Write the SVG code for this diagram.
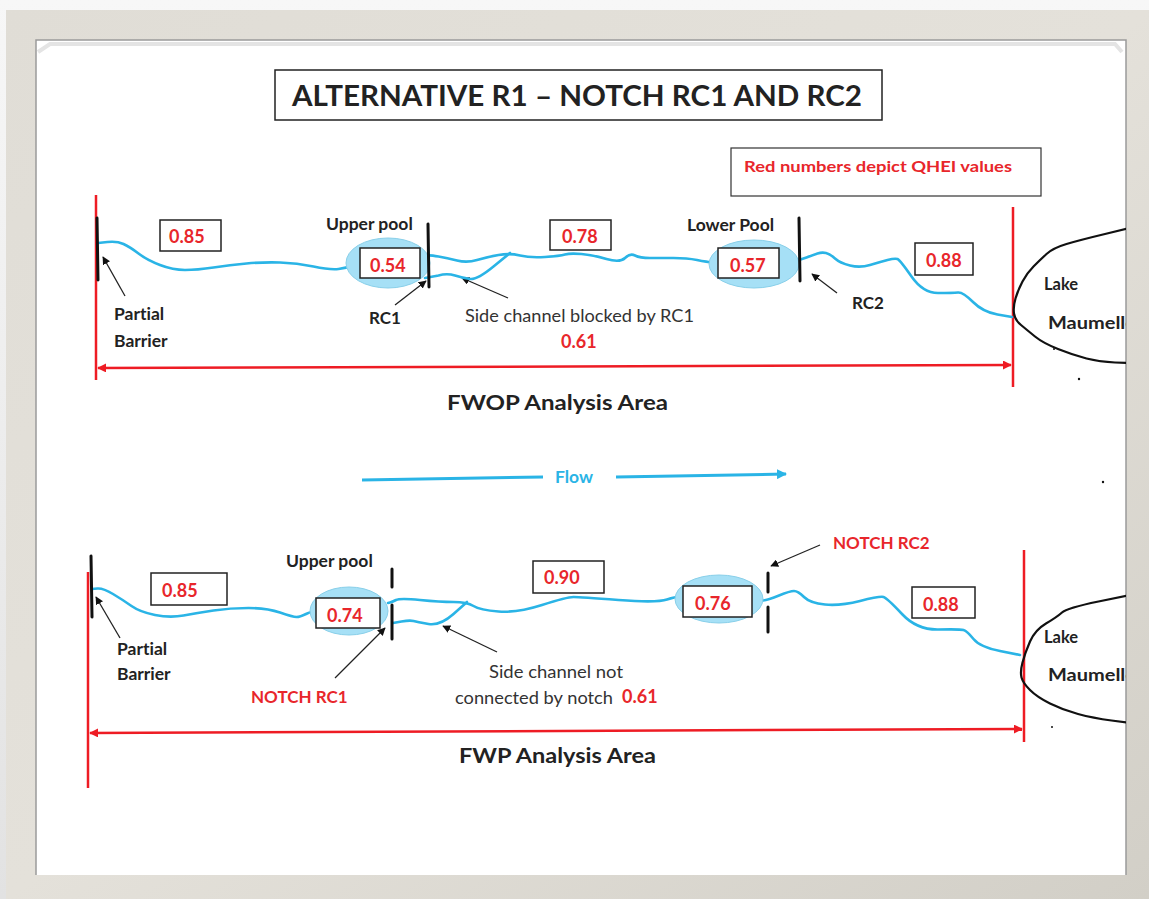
<svg xmlns="http://www.w3.org/2000/svg" width="1149" height="899" viewBox="0 0 1149 899">
<defs>
<style>
text{font-variant-ligatures:none;}
.t{font-family:Lato,"Open Sans","Liberation Sans",sans-serif;font-weight:bold;fill:#222;}
.r{font-family:Lato,"Open Sans","Liberation Sans",sans-serif;font-weight:bold;fill:#e8262b;}
.n{font-family:Lato,"Open Sans","Liberation Sans",sans-serif;font-weight:normal;fill:#333;}
.box{fill:#fff;stroke:#222;stroke-width:1.5;}
.riv{fill:none;stroke:#2ab4e6;stroke-width:2.6;stroke-linejoin:round;stroke-linecap:round;}
.pool{fill:#a6e0f6;stroke:#88cfe9;stroke-width:1;}
.bar{stroke:#111;stroke-width:3;stroke-linecap:round;}
.ptr{stroke:#222;stroke-width:1.3;fill:none;marker-end:url(#ah);}
.red{stroke:#ee1c24;stroke-width:2.5;fill:none;}
.lake{fill:none;stroke:#111;stroke-width:2.2;stroke-linejoin:round;}
</style>
<marker id="ah" viewBox="0 0 10 10" refX="9" refY="5" markerWidth="8" markerHeight="8" orient="auto" markerUnits="userSpaceOnUse"><path d="M0,0 L10,5 L0,10 z" fill="#111"/></marker>
<marker id="rh" viewBox="0 0 10 10" refX="9" refY="5" markerWidth="9" markerHeight="9" orient="auto-start-reverse" markerUnits="userSpaceOnUse"><path d="M0,0 L10,5 L0,10 z" fill="#ee1c24"/></marker>
<marker id="bh" viewBox="0 0 10 10" refX="9" refY="5" markerWidth="10" markerHeight="10" orient="auto" markerUnits="userSpaceOnUse"><path d="M0,0 L10,5 L0,10 z" fill="#2ab4e6"/></marker>
<linearGradient id="fr" x1="0" y1="0" x2="1" y2="1"><stop offset="0" stop-color="#e0ddd6"/><stop offset="0.5" stop-color="#e4e1da"/><stop offset="1" stop-color="#d2cfc7"/></linearGradient>
<linearGradient id="sh" x1="0" y1="0" x2="0" y2="1"><stop offset="0" stop-color="#f7f7f7"/><stop offset="1" stop-color="#e2e2e2"/></linearGradient>
<clipPath id="cp"><rect x="36" y="40" width="1090" height="835"/></clipPath>
</defs>

<g id="frame">
<rect x="0" y="0" width="1149" height="899" fill="url(#sh)"/>
<rect x="6" y="10" width="1143" height="889" fill="url(#fr)"/>
<rect x="36" y="40" width="1090" height="835" fill="#fff"/>
<path d="M36,875 L36,40 L1126,40 L1126,875" fill="none" stroke="#9a9a9a" stroke-width="1.5"/>
<path d="M38,52 L50,44 L1115,44 L1122,52" fill="none" stroke="#e4e4e4" stroke-width="4"/>
</g>

<g id="title">
<rect x="275" y="70" width="607" height="50" fill="#fff" stroke="#222" stroke-width="1.5"/>
<text class="t" x="292" y="106" font-size="29" textLength="570" lengthAdjust="spacingAndGlyphs" fill="#111">ALTERNATIVE R1 – NOTCH RC1 AND RC2</text>
</g>

<g id="legend">
<rect x="731" y="148" width="310" height="48" fill="#fff" stroke="#333" stroke-width="1.2"/>
<text class="r" x="744" y="172" font-size="15.5" textLength="268" lengthAdjust="spacingAndGlyphs">Red numbers depict QHEI values</text>
</g>

<g id="connectors">
<line class="red" x1="96" y1="195" x2="96" y2="380"/>
<line class="red" x1="1013" y1="207" x2="1013" y2="387"/>
<line class="red" x1="98" y1="368" x2="1011" y2="365" marker-start="url(#rh)" marker-end="url(#rh)"/>
<line class="ptr" x1="125" y1="296" x2="103" y2="257"/>
<line class="ptr" x1="395" y1="305" x2="426" y2="281"/>
<line class="ptr" x1="508" y1="298" x2="462" y2="278"/>
<line class="ptr" x1="837" y1="293" x2="812" y2="274"/>
<line x1="362" y1="480" x2="543" y2="477" stroke="#2ab4e6" stroke-width="3"/>
<line x1="616" y1="477" x2="786" y2="474" stroke="#2ab4e6" stroke-width="3" marker-end="url(#bh)"/>
<line class="red" x1="88" y1="572" x2="88" y2="788"/>
<line class="red" x1="1024" y1="550" x2="1024" y2="742"/>
<line class="red" x1="90" y1="733" x2="1022" y2="729" marker-start="url(#rh)" marker-end="url(#rh)"/>
<line class="ptr" x1="120" y1="638" x2="96" y2="597"/>
<line class="ptr" x1="335" y1="678" x2="385" y2="628"/>
<line class="ptr" x1="497" y1="652" x2="443" y2="626"/>
<line class="ptr" x1="820" y1="545" x2="771" y2="566"/>
</g>

<g id="fwop-river">
<path class="riv" d="M98,243 L107.5,242 Q117,241 123.5,244 Q130,247 138.5,253.5 Q147,260 160,265 Q173,270 185,270 Q197,270 213.5,267.5 Q230,265 246.5,263.5 Q263,262 280,262.5 Q297,263 313.5,266.5 Q330,270 338.5,269 Q347,268 353.5,265 Q360,262 370,262 L380,262"/>
<path class="riv" d="M425,256 L427.5,255.5 Q430,255 438.5,256.5 Q447,258 457,260.5 Q467,263 477,260 Q487,257 498.5,255 Q510,253 520,255.5 Q530,258 545,257 Q560,256 565,254.5 Q570,253 581.5,254 Q593,255 606.5,259 Q620,263 625,258 Q630,253 635,255.5 Q640,258 650,258 Q660,258 673.5,258 Q687,258 697,260 Q707,262 713.5,262.5 L720,263"/>
<path class="riv" d="M425,278 L438.5,275.5 Q447,273 455,275.5 Q463,278 470,279 Q477,280 493.5,266.5 L510,253"/>
<path class="riv" d="M790,261 L795,260.5 Q800,260 806.5,257.5 Q813,255 817.5,253.5 Q822,252 826,253 Q830,254 835,258.5 Q840,263 850,265.5 Q860,268 870,265 Q880,262 887.5,260 Q895,258 897.5,259 Q900,260 911.5,276.5 Q923,293 938,293 Q953,293 958,292.5 Q963,292 973,302 Q983,312 997.5,314.5 L1012,317"/>
</g>

<g id="fwop-upper-pool">
<ellipse class="pool" cx="388" cy="263" rx="42" ry="25"/>
<rect class="box" x="360" y="248" width="60" height="30"/>
<text class="r" x="370" y="272" font-size="18">0.54</text>
<text class="t" x="326" y="230" font-size="17.5">Upper pool</text>
</g>
<g id="fwop-rc1">
<line class="bar" x1="428" y1="224" x2="429" y2="287"/>
<text class="t" x="369" y="324" font-size="17">RC1</text>
</g>
<g id="fwop-partial-barrier">
<line class="bar" x1="97" y1="218" x2="98" y2="280"/>
<text class="t" x="114" y="320" font-size="17.5">Partial</text>
<text class="t" x="114" y="347" font-size="17.5">Barrier</text>
</g>
<g id="fwop-085">
<rect class="box" x="160" y="220" width="61" height="31"/>
<text class="r" x="169" y="243" font-size="18">0.85</text>
</g>
<g id="fwop-side-channel">
<text class="n" x="465" y="322" font-size="16.5" textLength="229" lengthAdjust="spacingAndGlyphs">Side channel blocked by RC1</text>
<text class="r" x="561" y="348" font-size="18">0.61</text>
</g>
<g id="fwop-078">
<rect class="box" x="550" y="220" width="61" height="30"/>
<text class="r" x="562" y="243" font-size="18">0.78</text>
</g>
<g id="fwop-lower-pool">
<ellipse class="pool" cx="754" cy="264" rx="45" ry="24"/>
<rect class="box" x="718" y="248" width="61" height="30"/>
<text class="r" x="730" y="272" font-size="18">0.57</text>
<text class="t" x="687" y="231" font-size="17.5">Lower Pool</text>
</g>
<g id="fwop-rc2">
<line class="bar" x1="799" y1="218" x2="800" y2="281"/>
<text class="t" x="852" y="309" font-size="17">RC2</text>
</g>
<g id="fwop-088">
<rect class="box" x="915" y="243" width="58" height="32"/>
<text class="r" x="926" y="267" font-size="18">0.88</text>
</g>
<g id="fwop-lake" clip-path="url(#cp)">
<path class="lake" d="M1130,228 L1105,234 Q1080,240 1066.5,244 Q1053,248 1046.5,254 Q1040,260 1033.5,266.5 Q1027,273 1022.5,281.5 Q1018,290 1015.5,298.5 Q1013,307 1014,313.5 Q1015,320 1021,325 Q1027,330 1035,336.5 Q1043,343 1058,349 Q1073,355 1086.5,358.5 Q1100,362 1115,362.5 L1130,363"/>
<text class="t" x="1044" y="290" font-size="16.5">Lake</text>
<text class="t" x="1048" y="329" font-size="16.5" textLength="88" lengthAdjust="spacingAndGlyphs">Maumelle</text>
<circle cx="1054" cy="349" r="1" fill="#111"/>
<circle cx="1079" cy="379" r="1.2" fill="#111"/>
</g>
<g id="fwop-label">
<text class="t" x="447" y="410" font-size="20" textLength="221" lengthAdjust="spacingAndGlyphs" fill="#111">FWOP Analysis Area</text>
</g>

<g id="flow">
<text x="555" y="483" font-family="Lato,'Open Sans','Liberation Sans',sans-serif" font-weight="bold" font-size="17.5" fill="#2ab4e6">Flow</text>
<circle cx="1103" cy="482" r="1.2" fill="#111"/>
</g>

<g id="fwp-river">
<path class="riv" d="M92,589 L97.5,588.5 Q103,588 113,594 Q123,600 131.5,606 Q140,612 155,615 Q170,618 183.5,615.5 Q197,613 213.5,610.5 Q230,608 248.5,608 Q267,608 280,612.5 Q293,617 296.5,617 Q300,617 306,614 Q312,611 321,610.5 L330,610"/>
<path class="riv" d="M388,603 L390,602.5 Q392,602 396,600 Q400,598 420,600 Q440,602 453.5,602 Q467,602 473.5,606 Q480,610 498.5,611.5 Q517,613 542,605 Q567,597 573.5,597 Q580,597 618.5,600 Q657,603 667,599.5 Q677,596 683.5,597 L690,598"/>
<path class="riv" d="M393,623 L401.5,621.5 Q410,620 413.5,621 Q417,622 428.5,624 Q440,626 453.5,614 L467,602"/>
<path class="riv" d="M758,601 L763,600.5 Q768,600 779,595.5 Q790,591 794,591 Q798,591 804,597 Q810,603 825,604.5 Q840,606 860,601 Q880,596 883.5,597 Q887,598 902,614 Q917,630 938.5,629.5 Q960,629 963.5,630 Q967,631 973.5,639 Q980,647 1000,651 L1020,655"/>
</g>

<g id="fwp-partial-barrier">
<line class="bar" x1="91" y1="556" x2="92" y2="617"/>
<text class="t" x="117" y="655" font-size="17.5">Partial</text>
<text class="t" x="117" y="680" font-size="17.5">Barrier</text>
</g>
<g id="fwp-085">
<rect class="box" x="151" y="573" width="76" height="32"/>
<text class="r" x="162" y="597" font-size="18">0.85</text>
</g>
<g id="fwp-upper-pool">
<ellipse class="pool" cx="349" cy="611" rx="39" ry="24"/>
<rect class="box" x="316" y="598" width="64" height="30"/>
<text class="r" x="327" y="622" font-size="18">0.74</text>
<text class="t" x="286" y="567" font-size="17.5">Upper pool</text>
</g>
<g id="fwp-notch-rc1">
<line class="bar" x1="392" y1="569" x2="392" y2="587"/>
<line class="bar" x1="392" y1="605" x2="392" y2="639"/>
<text class="r" x="251" y="703" font-size="17">NOTCH RC1</text>
</g>
<g id="fwp-side-channel">
<text class="n" x="489" y="678" font-size="16.5" textLength="134" lengthAdjust="spacingAndGlyphs">Side channel not</text>
<text class="n" x="455" y="704" font-size="16.5" textLength="158" lengthAdjust="spacingAndGlyphs">connected by notch</text>
<text class="r" x="622" y="703" font-size="18">0.61</text>
</g>
<g id="fwp-090">
<rect class="box" x="533" y="561" width="71" height="32"/>
<text class="r" x="544" y="584" font-size="18">0.90</text>
</g>
<g id="fwp-lower-pool">
<ellipse class="pool" cx="719" cy="599" rx="44" ry="24"/>
<rect class="box" x="683" y="586" width="69" height="31"/>
<text class="r" x="695" y="610" font-size="18">0.76</text>
</g>
<g id="fwp-notch-rc2">
<line class="bar" x1="768" y1="573" x2="768" y2="592"/>
<line class="bar" x1="768" y1="607" x2="768" y2="632"/>
<text class="r" x="833" y="549" font-size="17">NOTCH RC2</text>
</g>
<g id="fwp-088">
<rect class="box" x="912" y="587" width="63" height="31"/>
<text class="r" x="923" y="611" font-size="18">0.88</text>
</g>
<g id="fwp-lake" clip-path="url(#cp)">
<path class="lake" d="M1130,595 L1098.5,601.5 Q1067,608 1062,612.5 Q1057,617 1046,623.5 Q1035,630 1030,641.5 Q1025,653 1022.5,662.5 Q1020,672 1021.5,677.5 Q1023,683 1030,690 Q1037,697 1050,703.5 Q1063,710 1078,714 Q1093,718 1111.5,720.5 L1130,723"/>
<text class="t" x="1044" y="643" font-size="16.5">Lake</text>
<text class="t" x="1048" y="681" font-size="16.5" textLength="88" lengthAdjust="spacingAndGlyphs">Maumelle</text>
<circle cx="1052" cy="727" r="1" fill="#111"/>
</g>
<g id="fwp-label">
<text class="t" x="459" y="763" font-size="20" textLength="197" lengthAdjust="spacingAndGlyphs" fill="#111">FWP Analysis Area</text>
</g>
</svg>
